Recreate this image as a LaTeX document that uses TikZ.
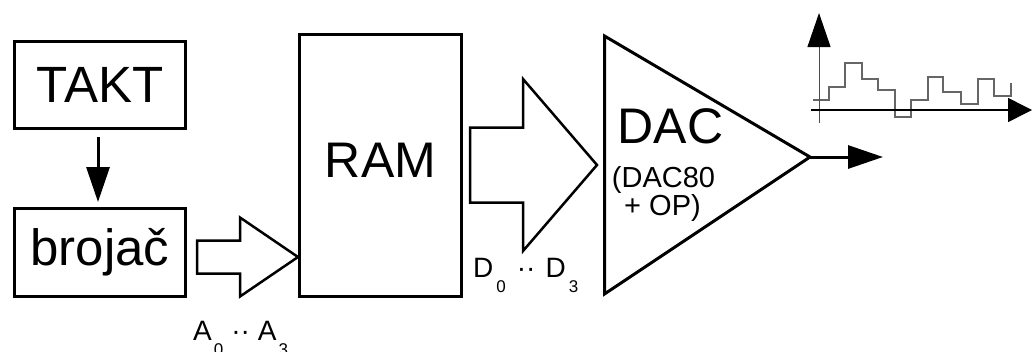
\documentclass[tikz,border=0pt]{standalone}
\usepackage{fontspec}
\setmainfont{Liberation Sans}
\usetikzlibrary{arrows.meta,calc}

% subscript digits set fully below the baseline
\newcommand\lowsub[1]{\raisebox{-15pt}{\fontsize{17}{17}\selectfont #1}}

% hollow bus arrow: #1 start, #2 tip, #3 half shaft, #4 half head, #5 head length
\newcommand\fatarrow[5]{%
  \draw[busarrow] let \p1=(#1), \p2=(#2) in
    (\x1,\y1+#3) -- (\x2-#5,\y1+#3) -- (\x2-#5,\y1+#4) -- (\x2,\y2)
    -- (\x2-#5,\y1-#4) -- (\x2-#5,\y1-#3) -- (\x1,\y1-#3) -- cycle;}

\begin{document}
\begin{tikzpicture}[x=1pt,y=-1pt,
  blockbox/.style={draw,line width=3pt,inner sep=0pt},
  bigtext/.style={font=\fontsize{51}{51}\selectfont},
  mainlabel/.style={font=\fontsize{50}{50}\selectfont,inner sep=0pt},
  sublabel/.style={font=\fontsize{29}{29}\selectfont,inner sep=0pt,anchor=base},
  buslabel/.style={font=\fontsize{28}{28}\selectfont,inner sep=0pt,anchor=base west},
  busarrow/.style={draw,line width=2.5pt,line join=miter},
  sigarrow/.style={line width=3pt,-{Triangle[length=35pt,width=23pt]}},
  wave/.style={draw=black!60,line width=1.4pt}]

\useasboundingbox (0,0) rectangle (1032,351);

% clock and counter
\node[blockbox,bigtext,minimum width=171pt,minimum height=87pt] (takt) at (100,85) {TAKT};
\node[blockbox,bigtext,minimum width=171pt,minimum height=88pt] (broj) at (100,252.5) {brojač};
\draw[sigarrow,shorten <=7pt,shorten >=5pt] (takt.south) ++(-2,0) coordinate (tk) -- (tk |- broj.north);

% memory
\node[blockbox,minimum width=162pt,minimum height=262pt] (ram) at (380.5,165.5) {};
\node[mainlabel] (ramtxt) at (380.5,160.5) {RAM};

% converter
\coordinate (dacT) at (604.5,36);
\coordinate (dacB) at (604.5,294);
\coordinate (dacO) at (810,157);
\draw[line width=3pt,line join=miter] (dacT) -- (dacO) -- (dacB) -- cycle;
\node[mainlabel] (dactxt) at (670.5,126.5) {DAC};
\node[sublabel] (dacsubA) at (663.5,187) {(DAC80};
\node[sublabel] (dacsubB) at (662.5,215) {+ OP)};

% output
\coordinate (outE) at (883,157);
\draw[sigarrow] (dacO) -- (outE);

% address and data buses
\coordinate (aS) at (197,257);
\coordinate (aE) at (ram.west |- aS);
\fatarrow{aS}{aE}{16.5pt}{39.5pt}{58pt}
\node[buslabel] (alab) at (193,340) {A\kern2pt\lowsub{0}\hspace{8pt}··\hspace{8pt}A\kern2pt\lowsub{3}};

\coordinate (dS) at (470,165);
\coordinate (dE) at (597,165);
\fatarrow{dS}{dE}{37.5pt}{86pt}{74pt}
\node[buslabel] (dlab) at (473,277) {D\kern3pt\lowsub{0}\hspace{11pt}··\hspace{10pt}D\kern3pt\lowsub{3}};

% output waveform sketch
\coordinate (yB) at (819,123);
\coordinate (yT) at (819,13);
\coordinate (xL) at (811,110);
\coordinate (xR) at (1032,110);
\draw[wave] (813,100) -| (829,87) -| (845,63) -| (862,79) -| (878,90) -| (895,117)
  -| (911,100) -| (928,77) -| (943,92) -| (961,104) -| (978,79) -| (994,96) -| (1011,83);
\draw[draw=black!70,line width=1pt,-{Triangle[length=34pt,width=23pt,color=black]}] (yB) -- (yT);
\draw[line width=1.5pt,-{Triangle[length=24pt,width=24pt]}] (xL) -- (xR);
\end{tikzpicture}
\end{document}
